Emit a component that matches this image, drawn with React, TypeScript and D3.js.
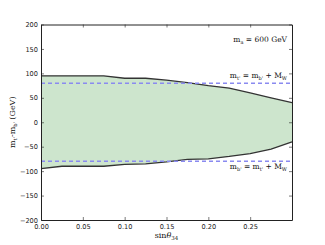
import React, { useRef, useEffect } from "react";
import * as d3 from "d3";

const sinTheta = [0, 0.025, 0.05, 0.075, 0.1, 0.125, 0.15, 0.175, 0.2, 0.225, 0.25, 0.275, 0.3];
const upperEdge = [95, 95, 95, 95, 90, 90, 86, 81, 75, 70, 60, 50, 40];
const lowerEdge = [-95, -90, -90, -90, -86, -85, -81, -76, -75, -70, -64, -55, -40];
const wLines = [80, -80];
const xTicks = [0, 0.05, 0.1, 0.15, 0.2, 0.25];
const yTicks = [-200, -150, -100, -50, 0, 50, 100, 150, 200];

const App = () => {
  const ref = useRef<SVGSVGElement>(null);

  useEffect(() => {
    const width = 325, height = 245;
    const margin = { top: 24.5, right: 33, bottom: 25, left: 41 };
    const svg = d3.select(ref.current);
    svg.selectAll("*").remove();

    const x = d3.scaleLinear().domain([0, 0.3]).range([margin.left, width - margin.right]);
    const y = d3.scaleLinear().domain([-200, 200]).range([height - margin.bottom, margin.top]);

    const rows = sinTheta.map((s, i) => ({ s, hi: upperEdge[i], lo: lowerEdge[i] }));

    const area = d3.area<any>().x(d => x(d.s)).y0(d => y(d.lo)).y1(d => y(d.hi));
    svg.append("path").datum(rows).attr("d", area).attr("fill", "#cde5cd");

    const line = d3.line<any>().x(d => x(d.s));
    svg.append("path").datum(rows).attr("d", line.y(d => y(d.hi))).attr("fill", "none").attr("stroke", "#333").attr("stroke-width", 1.3);
    svg.append("path").datum(rows).attr("d", line.y(d => y(d.lo))).attr("fill", "none").attr("stroke", "#333").attr("stroke-width", 1.3);

    svg.selectAll(".wl").data(wLines).join("line")
      .attr("x1", x(0)).attr("x2", x(0.3))
      .attr("y1", d => y(d)).attr("y2", d => y(d))
      .attr("stroke", "#8a8af0").attr("stroke-width", 1.5).attr("stroke-dasharray", "4,3");

    const font = "DejaVu Sans, sans-serif";
    const axB = svg.append("g").attr("transform", `translate(0,${y(-200)})`)
      .call(d3.axisBottom(x).tickValues(xTicks).tickFormat(d3.format(".2f")).tickSizeInner(-3).tickSizeOuter(0).tickPadding(4));
    const axT = svg.append("g").attr("transform", `translate(0,${y(200)})`)
      .call(d3.axisTop(x).tickValues(xTicks).tickFormat(() => "").tickSizeInner(-3).tickSizeOuter(0));
    const axL = svg.append("g").attr("transform", `translate(${x(0)},0)`)
      .call(d3.axisLeft(y).tickValues(yTicks).tickFormat(d => d3.format("d")(d as number).replace("-", "\u2212")).tickSizeInner(-3).tickSizeOuter(0).tickPadding(3));
    const axR = svg.append("g").attr("transform", `translate(${x(0.3)},0)`)
      .call(d3.axisRight(y).tickValues(yTicks).tickFormat(() => "").tickSizeInner(-3).tickSizeOuter(0));
    [axB, axT, axL, axR].forEach(g => {
      g.select(".domain").attr("stroke", "#222").attr("stroke-width", 1);
      g.selectAll(".tick line").attr("stroke", "#222").attr("stroke-width", 0.6);
      g.selectAll("text").attr("font-family", font).attr("font-size", 6.6).attr("fill", "#222");
    });

    const serif = "DejaVu Serif, serif";
    const addLabel = (tx: number, ty: number, parts: [string, string][]) => {
      const t = svg.append("text").attr("x", tx).attr("y", ty).attr("text-anchor", "end")
        .attr("font-family", serif).attr("font-size", 7.5).attr("fill", "#111");
      let shifted = false;
      parts.forEach(([txt, sub]) => {
        t.append("tspan").attr("dy", shifted ? -2 : 0).text(txt);
        shifted = false;
        if (sub) {
          t.append("tspan").attr("font-size", 5).attr("dy", 2).text(sub);
          shifted = true;
        }
      });
    };
    addLabel(287, 42, [["m", "a"], [" = 600  GeV", ""]]);
    addLabel(287, 78, [["m", "t'"], [" = m", "b'"], [" + M", "W"]]);
    addLabel(287, 169, [["m", "b'"], [" = m", "t'"], [" + M", "W"]]);

    const xl = svg.append("text").attr("x", (x(0) + x(0.3)) / 2).attr("y", 238).attr("text-anchor", "middle")
      .attr("font-family", serif).attr("font-size", 8).attr("fill", "#111");
    xl.append("tspan").text("sin");
    xl.append("tspan").attr("font-style", "italic").text("θ");
    xl.append("tspan").attr("font-size", 5.5).attr("dy", 2).text("34");

    const yl = svg.append("text").attr("transform", `translate(15,${y(0)}) rotate(-90)`).attr("text-anchor", "middle")
      .attr("font-family", serif).attr("font-size", 8).attr("fill", "#111");
    yl.append("tspan").text("m");
    yl.append("tspan").attr("font-size", 5).attr("dy", 2).text("t'");
    yl.append("tspan").attr("dy", -2).text("-m");
    yl.append("tspan").attr("font-size", 5).attr("dy", 2).text("b'");
    yl.append("tspan").attr("dy", -2).text("  (GeV)");
  });

  return <svg ref={ref} width={325} height={245} style={{ position: "absolute", left: 0, top: 0, background: "#fff" }} />;
};

export default App;
